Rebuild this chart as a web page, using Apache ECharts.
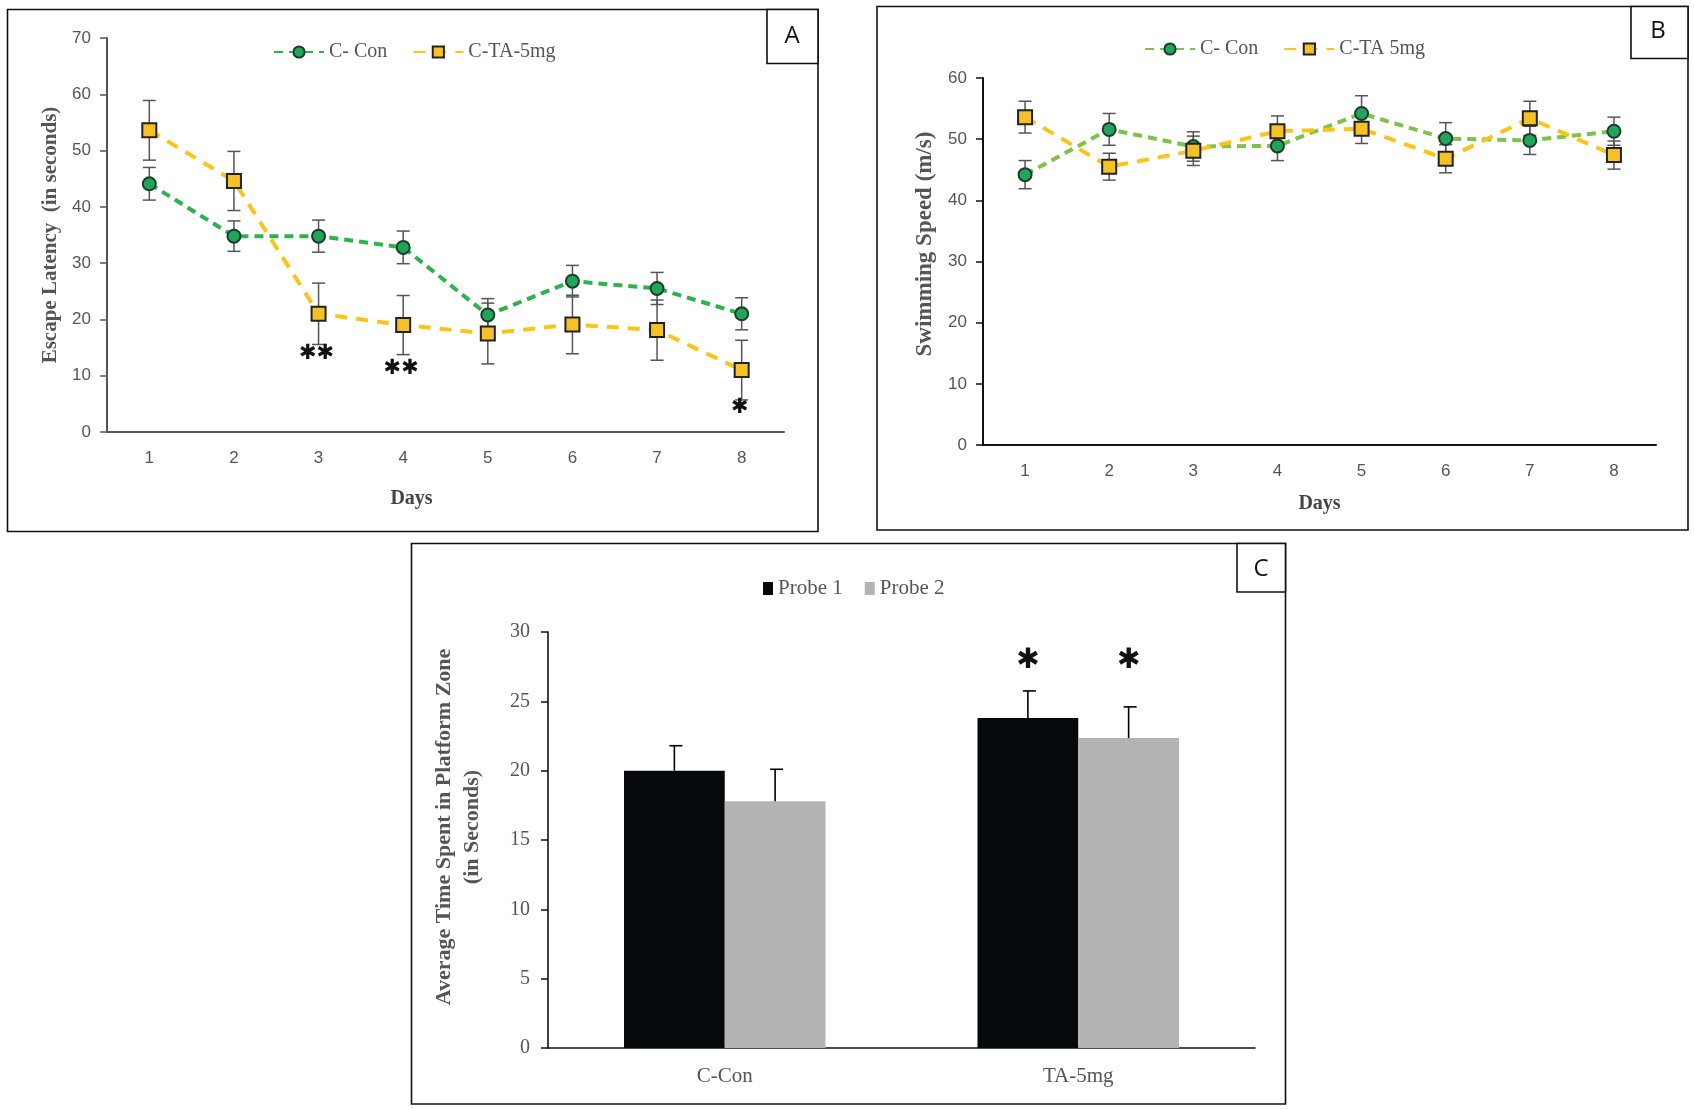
<!DOCTYPE html>
<html>
<head>
<meta charset="utf-8">
<script src="https://cdn.jsdelivr.net/npm/echarts@6/dist/echarts.min.js"></script>
<style>
html,body{margin:0;padding:0;background:#fff;}
#chart{width:1694px;height:1109px;}
</style>
</head>
<body>
<div id="chart"></div>
<script>
// ---------- data ----------
const days = ['1', '2', '3', '4', '5', '6', '7', '8'];

// Panel A: escape latency (s)
const latencyCon = [44.1, 34.8, 34.8, 32.8, 20.8, 26.8, 25.5, 21.0];
const latencyConErr = [2.9, 2.7, 2.85, 2.9, 2.9, 2.8, 2.85, 2.85];
const latencyTA = [53.6, 44.6, 21.0, 19.0, 17.5, 19.1, 18.1, 11.0];
const latencyTAErr = [5.3, 5.25, 5.45, 5.25, 5.4, 5.2, 5.35, 5.3];
const latencyStars = [['3', 13.9, '✱✱'], ['4', 11.3, '✱✱'], ['8', 4.4, '✱']];

// Panel B: swimming speed (m/s)
const speedCon = [44.2, 51.6, 48.8, 48.9, 54.2, 50.1, 49.8, 51.3];
const speedConErr = [2.3, 2.6, 2.4, 2.4, 2.9, 2.6, 2.3, 2.3];
const speedTA = [53.6, 45.5, 48.1, 51.3, 51.7, 46.8, 53.4, 47.4];
const speedTAErr = [2.6, 2.2, 2.4, 2.5, 2.4, 2.3, 2.8, 2.3];

// Panel C: probe trials
const groups = ['C-Con', 'TA-5mg'];
const probe1 = [20.0, 23.8];
const probe1Err = [1.8, 1.95];
const probe2 = [17.8, 22.35];
const probe2Err = [2.3, 2.25];
const probe1Stars = [['TA-5mg', 27.9, '✱']];
const probe2Stars = [['TA-5mg', 27.9, '✱']];

// ---------- helpers ----------
const GREY = '#555';
const SERIF = '"Liberation Serif", "Times New Roman", serif';
const SANS = '"Liberation Sans", Arial, sans-serif';

function errBarRender(color, capW) {
  return function (params, api) {
    const x = api.value(0), m = api.value(1), e = api.value(2);
    const t = api.coord([x, m + e]);
    const b = api.coord([x, m - e]);
    const st = { stroke: color, lineWidth: 1.5 };
    return {
      type: 'group',
      children: [
        { type: 'line', shape: { x1: t[0], y1: t[1], x2: b[0], y2: b[1] }, style: st },
        { type: 'line', shape: { x1: t[0] - capW / 2, y1: t[1], x2: t[0] + capW / 2, y2: t[1] }, style: st },
        { type: 'line', shape: { x1: b[0] - capW / 2, y1: b[1], x2: b[0] + capW / 2, y2: b[1] }, style: st }
      ]
    };
  };
}
function barErrRender(side, gapRatio) {
  return function (params, api) {
    const x = api.value(0), m = api.value(1), e = api.value(2);
    const band = api.size([1, 0])[0];
    const off = side * band * (1 - gapRatio) / 4;
    const t = api.coord([x, m + e]);
    const b = api.coord([x, m]);
    const st = { stroke: '#000', lineWidth: 1.6 };
    return {
      type: 'group',
      children: [
        { type: 'line', shape: { x1: t[0] + off, y1: t[1], x2: b[0] + off, y2: b[1] }, style: st },
        { type: 'line', shape: { x1: t[0] + off - 5, y1: t[1], x2: t[0] + off + 8, y2: t[1] }, style: st }
      ]
    };
  };
}
function starRender(side, gapRatio, size, dx) {
  return function (params, api) {
    const p = api.coord([api.value(0), api.value(1)]);
    let off = dx || 0;
    if (side !== 0) off = side * api.size([1, 0])[0] * (1 - gapRatio) / 4;
    return {
      type: 'text',
      x: p[0] + off, y: p[1],
      style: {
        text: api.value(2), fill: '#111', fontSize: size, fontWeight: 'bold',
        fontFamily: '"DejaVu Sans", sans-serif', align: 'center', verticalAlign: 'middle'
      }
    };
  };
}

const GAP = 0.43;

function lineAxisX(gi, nameGap, color, namePad) {
  return {
    gridIndex: gi, type: 'category', data: days, boundaryGap: true,
    axisLine: { lineStyle: { color: color, width: 2 } },
    axisTick: { alignWithLabel: true, length: 7, lineStyle: { color: color, width: 1.5 } },
    axisLabel: { margin: 18, fontSize: 17, color: GREY, fontFamily: SANS },
    splitLine: { show: false },
    name: 'Days', nameLocation: 'middle', nameGap: nameGap,
    nameTextStyle: { fontFamily: SERIF, fontWeight: 'bold', fontSize: 20, color: '#444', padding: namePad }
  };
}
function lineAxisY(gi, max, name, color, size, namePad) {
  return {
    gridIndex: gi, type: 'value', min: 0, max: max, interval: 10,
    axisLine: { show: true, lineStyle: { color: color, width: 2 } },
    axisTick: { show: true, length: 7, lineStyle: { color: color, width: 1.5 } },
    axisLabel: { margin: 16, fontSize: 17, color: GREY, fontFamily: SANS },
    splitLine: { show: false },
    name: name, nameLocation: 'middle', nameGap: 46,
    nameTextStyle: { fontFamily: SERIF, fontWeight: 'bold', fontSize: size, color: GREY, padding: namePad }
  };
}

function lineSeries(name, data, gi, lineColor, fill, symbol, size, dash, border) {
  return {
    name: name, type: 'line', xAxisIndex: gi, yAxisIndex: gi, data: data, z: 3,
    symbol: symbol, symbolSize: size,
    lineStyle: { color: lineColor, width: 4, type: dash },
    itemStyle: { color: fill, borderColor: border, borderWidth: 2 }
  };
}

const option = {
  animation: false,
  backgroundColor: '#fff',
  grid: [
    { left: 107, top: 38, width: 677, height: 394, outerBoundsMode: 'none' },
    { left: 983, top: 78, width: 673, height: 367, outerBoundsMode: 'none' },
    { left: 548, top: 632, width: 707, height: 416, outerBoundsMode: 'none' }
  ],
  legend: [
    {
      left: 268, top: 37, itemWidth: 50, itemHeight: 14, itemGap: 25,
      data: ['C- Con', 'C-TA-5mg'],
      textStyle: { fontFamily: SERIF, fontSize: 20, color: GREY }
    },
    {
      left: 1139, top: 34, itemWidth: 50, itemHeight: 14, itemGap: 25,
      data: ['C- Con ', 'C-TA 5mg'],
      formatter: function (n) { return n.trim(); },
      textStyle: { fontFamily: SERIF, fontSize: 20, color: GREY }
    },
    {
      left: 758, top: 573, itemWidth: 10, itemHeight: 13, itemGap: 22, icon: 'rect',
      data: ['Probe 1', 'Probe 2'],
      textStyle: { fontFamily: SERIF, fontSize: 21, color: GREY }
    }
  ],
  xAxis: [
    lineAxisX(0, 57, '#555', [0, 68, 0, 0]),
    lineAxisX(1, 49, '#111', 0),
    {
      gridIndex: 2, type: 'category', data: groups, boundaryGap: true,
      axisLine: { lineStyle: { color: '#111', width: 1.6 } },
      axisTick: { alignWithLabel: true, length: 7, lineStyle: { color: '#111', width: 1.5 } },
      axisLabel: { margin: 18, fontSize: 21, color: GREY, fontFamily: SERIF }
    }
  ],
  yAxis: [
    lineAxisY(0, 70, 'Escape Latency  (in seconds)', '#555', 21, 0),
    lineAxisY(1, 60, 'Swimming Speed (m/s)', '#111', 23, [0, 0, 0, 35]),
    {
      gridIndex: 2, type: 'value', min: 0, max: 30, interval: 5,
      axisLine: { show: true, lineStyle: { color: '#111', width: 1.6 } },
      axisTick: { show: true, length: 7, lineStyle: { color: '#111', width: 1.5 } },
      axisLabel: { margin: 18, fontSize: 20, color: GREY, fontFamily: SERIF },
      splitLine: { show: false },
      name: 'Average Time Spent in Platform Zone\n(in Seconds)', nameLocation: 'middle', nameGap: 62,
      nameTextStyle: { fontFamily: SERIF, fontWeight: 'bold', fontSize: 22, lineHeight: 28, color: GREY, align: 'center', padding: [0, 0, 0, 26] }
    }
  ],
  series: [
    // Panel A
    { type: 'custom', xAxisIndex: 0, yAxisIndex: 0, z: 2, renderItem: errBarRender('#555', 13),
      data: days.map((d, i) => [i, latencyCon[i], latencyConErr[i]]) },
    { type: 'custom', xAxisIndex: 0, yAxisIndex: 0, z: 2, renderItem: errBarRender('#555', 13),
      data: days.map((d, i) => [i, latencyTA[i], latencyTAErr[i]]) },
    lineSeries('C- Con', latencyCon, 0, '#2eb24f', '#1fa65a', 'circle', 13, [9, 6], '#1f3b2b'),
    lineSeries('C-TA-5mg', latencyTA, 0, '#fcc419', '#f5c125', 'rect', 14, [12, 9], '#222'),
    { type: 'custom', xAxisIndex: 0, yAxisIndex: 0, z: 4, renderItem: starRender(0, 0, 21, -2),
      data: latencyStars },
    // Panel B
    { type: 'custom', xAxisIndex: 1, yAxisIndex: 1, z: 2, renderItem: errBarRender('#555', 13),
      data: days.map((d, i) => [i, speedCon[i], speedConErr[i]]) },
    { type: 'custom', xAxisIndex: 1, yAxisIndex: 1, z: 2, renderItem: errBarRender('#555', 13),
      data: days.map((d, i) => [i, speedTA[i], speedTAErr[i]]) },
    lineSeries('C- Con ', speedCon, 1, '#7fc24a', '#1fa65a', 'circle', 13, [9, 6], '#1f3b2b'),
    lineSeries('C-TA 5mg', speedTA, 1, '#fcc419', '#f5c125', 'rect', 14, [12, 9], '#222'),
    // Panel C
    { name: 'Probe 1', type: 'bar', xAxisIndex: 2, yAxisIndex: 2, data: probe1,
      barGap: '0%', barCategoryGap: (GAP * 100) + '%', itemStyle: { color: '#05090b' } },
    { name: 'Probe 2', type: 'bar', xAxisIndex: 2, yAxisIndex: 2, data: probe2,
      barGap: '0%', barCategoryGap: (GAP * 100) + '%', itemStyle: { color: '#b3b3b3' } },
    { type: 'custom', xAxisIndex: 2, yAxisIndex: 2, z: 4, renderItem: barErrRender(-1, GAP),
      data: groups.map((g, i) => [i, probe1[i], probe1Err[i]]) },
    { type: 'custom', xAxisIndex: 2, yAxisIndex: 2, z: 4, renderItem: barErrRender(1, GAP),
      data: groups.map((g, i) => [i, probe2[i], probe2Err[i]]) },
    { type: 'custom', xAxisIndex: 2, yAxisIndex: 2, z: 4, renderItem: starRender(-1, GAP, 28),
      data: probe1Stars },
    { type: 'custom', xAxisIndex: 2, yAxisIndex: 2, z: 4, renderItem: starRender(1, GAP, 28),
      data: probe2Stars }
  ],
  graphic: [
    { type: 'rect', shape: { x: 7.5, y: 9.5, width: 810.5, height: 522 }, style: { fill: null, stroke: '#111', lineWidth: 1.6 }, silent: true },
    { type: 'rect', shape: { x: 767, y: 9.5, width: 51, height: 54 }, style: { fill: '#fff', stroke: '#111', lineWidth: 1.6 }, silent: true },
    { type: 'text', x: 792, y: 36, style: { text: 'A', fontSize: 24, fontFamily: '"Open Sans", sans-serif', fill: '#111', align: 'center', verticalAlign: 'middle' } },

    { type: 'rect', shape: { x: 877, y: 6.5, width: 811, height: 523.5 }, style: { fill: null, stroke: '#111', lineWidth: 1.6 }, silent: true },
    { type: 'rect', shape: { x: 1631, y: 6.5, width: 57, height: 52 }, style: { fill: '#fff', stroke: '#111', lineWidth: 1.6 }, silent: true },
    { type: 'text', x: 1658, y: 31, style: { text: 'B', fontSize: 24, fontFamily: '"Open Sans", sans-serif', fill: '#111', align: 'center', verticalAlign: 'middle' } },

    { type: 'rect', shape: { x: 411.5, y: 543.5, width: 874, height: 560.5 }, style: { fill: null, stroke: '#111', lineWidth: 1.6 }, silent: true },
    { type: 'rect', shape: { x: 1237, y: 543.5, width: 48.5, height: 48.5 }, style: { fill: '#fff', stroke: '#111', lineWidth: 1.6 }, silent: true },
    { type: 'text', x: 1261, y: 569, style: { text: 'C', fontSize: 24, fontFamily: '"Open Sans", sans-serif', fill: '#111', align: 'center', verticalAlign: 'middle' } }
  ]
};

const chart = echarts.init(document.getElementById('chart'), null, { renderer: 'canvas' });
chart.setOption(option);
</script>
</body>
</html>
